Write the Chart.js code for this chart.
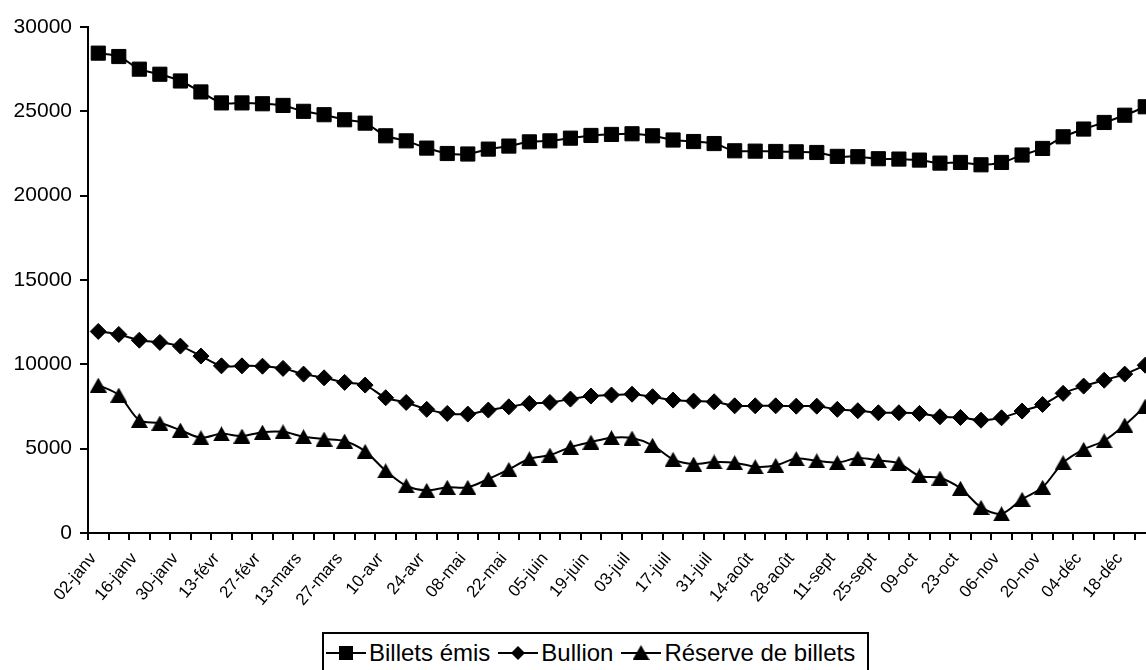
<!DOCTYPE html>
<html>
<head>
<meta charset="utf-8">
<script src="https://cdn.jsdelivr.net/npm/chart.js@4.4.1/dist/chart.umd.min.js"></script>
<style>
    html, body { margin: 0; padding: 0; background: #fff; overflow: hidden; width: 1146px; height: 670px; }
    #wrap { position: relative; width: 1146px; height: 670px; overflow: hidden; }
    #line-chart { position: absolute; left: 0; top: 0; }
    .legend {
        position: absolute; left: 322px; top: 632px; height: 50px;
        border: 2px solid #000; background: #fff; box-sizing: border-box;
        display: flex; align-items: flex-start; padding: 0 12px 0 2px;
        font-family: "Liberation Sans", Arial, sans-serif; font-size: 24px; color: #000;
    }
    .legend .item { display: flex; align-items: center; margin-right: 8px; height: 38px; }
    .legend .item:last-child { margin-right: 0; }
    .legend canvas { margin-right: 3px; }
</style>
</head>
<body>
<div id="wrap">
    <canvas id="line-chart" width="1170" height="670"></canvas>
    <div class="legend"></div>
</div>
<script>
// semaines (une étiquette sur deux affichée)
const weeks = [
    "02-janv", "09-janv", "16-janv", "23-janv", "30-janv", "06-févr", "13-févr", "20-févr", "27-févr",
    "06-mars", "13-mars", "20-mars", "27-mars", "03-avr", "10-avr", "17-avr", "24-avr", "01-mai",
    "08-mai", "15-mai", "22-mai", "29-mai", "05-juin", "12-juin", "19-juin", "26-juin", "03-juil",
    "10-juil", "17-juil", "24-juil", "31-juil", "07-août", "14-août", "21-août", "28-août", "04-sept",
    "11-sept", "18-sept", "25-sept", "02-oct", "09-oct", "16-oct", "23-oct", "30-oct", "06-nov",
    "13-nov", "20-nov", "27-nov", "04-déc", "11-déc", "18-déc", "25-déc"
];

const billetsEmis = [
    28450, 28250, 27500, 27200, 26800, 26150, 25500, 25500, 25450, 25350, 25000, 24800, 24500,
    24300, 23550, 23250, 22820, 22500, 22470, 22760, 22940, 23190, 23250, 23410, 23570, 23630,
    23670, 23550, 23300, 23210, 23090, 22660, 22640, 22620, 22600, 22560, 22330, 22310, 22190,
    22170, 22110, 21930, 21970, 21830, 21970, 22410, 22800, 23490, 23950, 24340, 24770, 25270
];

const bullion = [
    11950, 11770, 11430, 11300, 11080, 10490, 9910, 9910, 9890, 9760, 9420, 9200, 8930,
    8770, 8020, 7740, 7330, 7090, 7050, 7290, 7480, 7680, 7740, 7940, 8120, 8180,
    8230, 8080, 7880, 7820, 7780, 7540, 7540, 7540, 7520, 7520, 7330, 7250, 7130,
    7130, 7090, 6890, 6850, 6690, 6830, 7230, 7620, 8280, 8710, 9060, 9420, 9950
];

const reserveBillets = [
    8770, 8180, 6680, 6520, 6100, 5650, 5880, 5750, 5980, 6000, 5710, 5570, 5450,
    4840, 3690, 2800, 2530, 2710, 2710, 3200, 3770, 4400, 4620, 5090, 5390, 5650,
    5630, 5200, 4370, 4090, 4210, 4170, 3930, 4010, 4410, 4280, 4170, 4440, 4300,
    4130, 3380, 3260, 2650, 1520, 1140, 2000, 2710, 4170, 4960, 5470, 6400, 7520
];

const yTicks = [0, 5000, 10000, 15000, 20000, 25000, 30000];

const FONT = "'Liberation Sans', Arial, sans-serif";

// triangle centré sur le point (comme Excel)
let makeTriangle = function(w, h){
    let c = document.createElement('canvas');
    c.width = w; c.height = h;
    let ctx = c.getContext('2d');
    ctx.fillStyle = '#000';
    ctx.beginPath();
    ctx.moveTo(w / 2, 0);
    ctx.lineTo(w, h);
    ctx.lineTo(0, h);
    ctx.closePath();
    ctx.fill();
    return c;
}
const triangle = makeTriangle(17, 15);

let serie = function(label, data, style, radius){
    return {
        label: label,
        data: data,
        borderColor: '#000',
        backgroundColor: '#000',
        borderWidth: 2,
        tension: 0.3,
        fill: false,
        pointStyle: style,
        pointRadius: radius,
        pointHoverRadius: radius,
        pointBackgroundColor: '#000',
        pointBorderColor: '#000',
        pointBorderWidth: 1,
        clip: false
    };
}

const config = {
    type: 'line',
    data: {
        labels: weeks,
        datasets: [
            serie('Billets émis', billetsEmis, 'rect', 10),
            serie('Bullion', bullion, 'rectRot', 8),
            serie('Réserve de billets', reserveBillets, triangle, 9)
        ]
    },
    options: {
        responsive: false,
        animation: false,
        devicePixelRatio: 1,
        layout: { padding: { top: 27, right: 14, left: 0, bottom: 0 } },
        plugins: { legend: { display: false }, tooltip: { enabled: false } },
        scales: {
            x: {
                offset: true,
                border: { color: '#000', width: 2 },
                grid: { offset: true, drawOnChartArea: false, drawTicks: true, tickLength: 7, color: '#000', lineWidth: 2 },
                ticks: {
                    autoSkip: false,
                    maxRotation: 50,
                    minRotation: 50,
                    padding: 9,
                    labelOffset: -5,
                    color: '#000',
                    font: { family: FONT, size: 17 },
                    callback: function(v, i){ return i % 2 === 0 ? weeks[i] : ''; }
                },
                afterFit: function(scale){ scale.height = 137; }
            },
            y: {
                min: 0,
                max: 30000,
                afterBuildTicks: function(scale){ scale.ticks = yTicks.map(v => ({ value: v })); },
                border: { color: '#000', width: 2 },
                grid: { drawOnChartArea: false, drawTicks: true, tickLength: 8, color: '#000', lineWidth: 2 },
                ticks: {
                    color: '#000',
                    padding: 8,
                    font: { family: FONT, size: 21 },
                    callback: function(v){ return String(v); }
                },
                afterFit: function(scale){ scale.width = 88; }
            }
        }
    }
};

let myChart = new Chart(document.querySelector('#line-chart'), config);

// légende encadrée, trait + marqueur
let drawSymbol = function(ds){
    let c = document.createElement('canvas');
    c.width = 40; c.height = 20;
    let ctx = c.getContext('2d');
    ctx.strokeStyle = '#000';
    ctx.lineWidth = 2;
    ctx.beginPath();
    ctx.moveTo(0, 10); ctx.lineTo(40, 10);
    ctx.stroke();
    ctx.fillStyle = '#000';
    if(ds.pointStyle === 'rect'){
        ctx.fillRect(13, 3, 14, 14);
    } else if(ds.pointStyle === 'rectRot'){
        ctx.beginPath();
        ctx.moveTo(20, 3); ctx.lineTo(27, 10); ctx.lineTo(20, 17); ctx.lineTo(13, 10);
        ctx.closePath(); ctx.fill();
    } else {
        ctx.drawImage(triangle, 11.5, 2);
    }
    return c;
}

let legend = document.querySelector('.legend');
myChart.data.datasets.forEach(function(ds){
    let item = document.createElement('div');
    item.className = 'item';
    item.appendChild(drawSymbol(ds));
    let txt = document.createElement('span');
    txt.textContent = ds.label;
    item.appendChild(txt);
    legend.appendChild(item);
});
</script>
</body>
</html>
